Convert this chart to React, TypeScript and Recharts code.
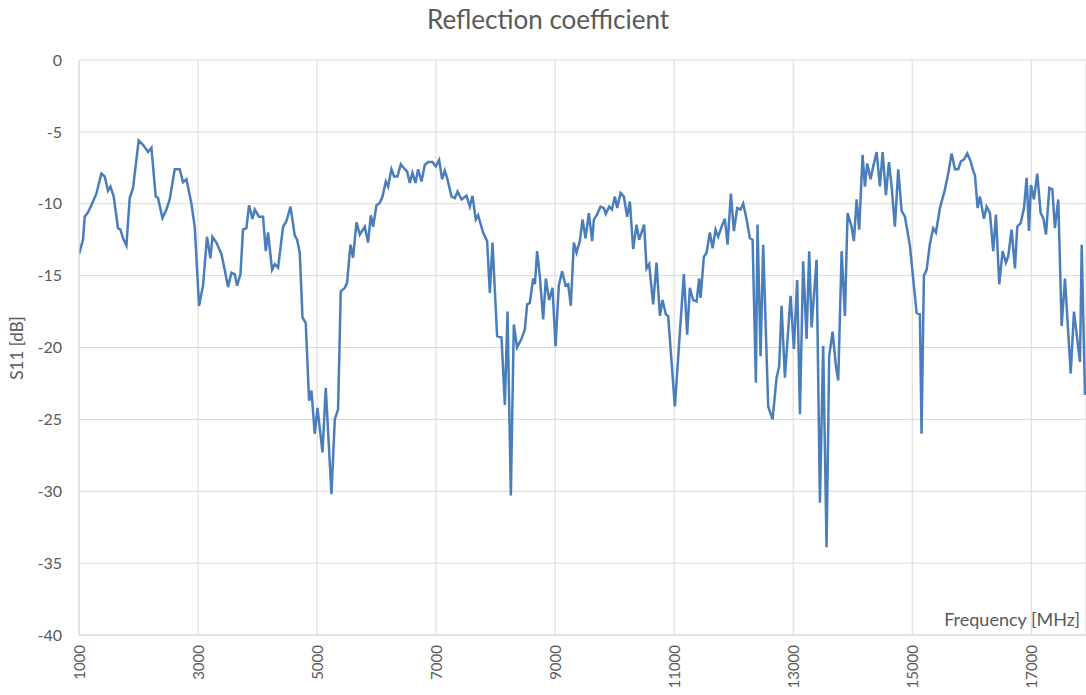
import React from "react";
import { LineChart, Line, XAxis, YAxis, CartesianGrid } from "recharts";

const freq = [
  1000, 1067, 1096, 1151, 1208, 1292, 1376, 1432, 1487, 1528, 1583, 1655, 1696, 1740, 1797, 1852, 1908,
  2003, 2076, 2160, 2217, 2289, 2328, 2402, 2469, 2524, 2608, 2692, 2748, 2805, 2889, 2945,
  3017, 3084, 3151, 3208, 3242, 3309, 3393, 3449, 3504, 3561, 3617, 3656, 3713, 3756, 3813, 3857, 3914, 3953,
  4025, 4092, 4138, 4177, 4244, 4289, 4345, 4429, 4486, 4553, 4625, 4664, 4709, 4755, 4810, 4866, 4906, 4961,
  5007, 5091, 5146, 5242, 5298, 5353, 5398, 5466, 5504, 5561, 5605, 5662, 5718, 5802, 5857, 5903, 5941, 5998,
  6054, 6099, 6155, 6193, 6250, 6294, 6351, 6407, 6474, 6513, 6558, 6603, 6654, 6698, 6755, 6810, 6866, 6940, 6995,
  7051, 7101, 7146, 7185, 7259, 7315, 7360, 7427, 7511, 7567, 7612, 7667, 7706, 7790, 7857, 7903, 7948,
  8025, 8099, 8155, 8200, 8256, 8306, 8361, 8435, 8491, 8530, 8575, 8631, 8660, 8698, 8743, 8799, 8844, 8899, 8956,
  9007, 9062, 9118, 9175, 9219, 9264, 9314, 9360, 9415, 9460, 9511, 9567, 9622, 9651, 9706, 9763, 9819, 9852, 9908, 9954,
  10004, 10043, 10100, 10155, 10210, 10256, 10311, 10368, 10412, 10496, 10536, 10580, 10647, 10704, 10760, 10805, 10861, 10899,
  11012, 11084, 11163, 11219, 11264, 11319, 11377, 11420, 11444, 11499, 11545, 11600, 11646, 11696, 11740, 11797, 11852, 11898, 11953,
  12004, 12059, 12116, 12160, 12218, 12272, 12318, 12373, 12401, 12452, 12496, 12580, 12654, 12721, 12765, 12805, 12861, 12956,
  13012, 13067, 13113, 13168, 13225, 13269, 13309, 13393, 13449, 13504, 13561, 13605, 13662, 13718, 13757, 13814, 13869, 13914, 13981,
  14020, 14066, 14109, 14166, 14205, 14244, 14301, 14345, 14402, 14457, 14503, 14558, 14609, 14654, 14709, 14765, 14822, 14878, 14962,
  15074, 15129, 15157, 15196, 15242, 15297, 15353, 15398, 15466, 15550, 15605, 15662, 15718, 15773, 15819, 15874, 15925, 15982,
  16026, 16054, 16099, 16138, 16205, 16250, 16306, 16361, 16407, 16462, 16519, 16575, 16613, 16670, 16726, 16765, 16822, 16878, 16923, 16962, 16995,
  17046, 17101, 17158, 17203, 17248, 17304, 17354, 17398, 17454, 17511, 17567, 17663, 17718, 17819, 17848, 17903,
];

const s11 = [
  -13.5, -12.5, -10.9, -10.6, -10.1, -9.3, -7.9, -8.1, -9.1, -8.8, -9.5, -11.7, -11.8, -12.4, -12.9, -9.6, -8.9,
  -5.6, -5.9, -6.4, -6.1, -9.5, -9.6, -11.0, -10.4, -9.7, -7.6, -7.6, -8.5, -8.3, -10.0, -11.6,
  -17.1, -15.7, -12.3, -13.8, -12.3, -12.7, -13.5, -14.6, -15.8, -14.8, -14.9, -15.7, -14.9, -11.8, -11.7, -10.1, -11.05, -10.4,
  -10.9, -10.9, -13.3, -12.0, -14.6, -14.2, -14.45, -11.6, -11.2, -10.2, -12.2, -12.5, -13.4, -17.9, -18.3, -23.7, -23.0, -26.0,
  -24.2, -27.3, -22.8, -30.2, -25.0, -24.3, -16.1, -15.85, -15.5, -12.85, -13.75, -11.3, -12.15, -11.6, -12.7, -10.8, -11.6, -10.1,
  -9.95, -9.5, -8.45, -8.8, -7.6, -8.1, -8.1, -7.25, -7.6, -7.75, -8.55, -7.85, -8.55, -7.6, -8.45, -7.3, -7.1, -7.1, -7.4,
  -6.95, -8.3, -7.7, -8.2, -9.5, -9.6, -9.15, -9.7, -9.45, -10.2, -9.45, -11.1, -10.8, -12.0, -12.6, -16.2, -12.7,
  -19.2, -19.3, -24.0, -17.5, -30.3, -18.4, -20.0, -19.4, -18.75, -17.0, -16.9, -15.2, -15.6, -13.3, -15.05, -18.05, -15.2, -16.7, -15.85,
  -19.9, -15.7, -14.7, -15.7, -15.6, -17.1, -12.7, -13.4, -12.6, -11.1, -12.4, -10.65, -12.6, -11.1, -10.75, -10.2, -10.3, -10.7, -10.2, -10.4,
  -9.5, -10.3, -9.25, -9.5, -10.9, -9.85, -13.15, -11.45, -12.5, -11.45, -14.5, -14.2, -17.0, -14.1, -17.8, -16.7, -17.7, -17.8,
  -24.1, -19.7, -14.9, -19.1, -15.85, -16.7, -16.8, -15.2, -16.55, -13.7, -13.4, -12.0, -13.1, -11.8, -12.3, -11.6, -11.05, -12.85, -9.3,
  -11.9, -10.3, -10.4, -10.0, -11.1, -12.4, -12.5, -22.45, -11.45, -20.6, -12.85, -24.1, -25.0, -22.1, -21.3, -17.1, -22.1, -16.4,
  -20.1, -15.3, -24.65, -14.0, -19.4, -13.3, -18.6, -13.9, -30.8, -19.9, -33.9, -20.6, -18.9, -21.3, -22.3, -13.3, -17.8, -10.65, -11.6,
  -12.6, -9.7, -11.8, -6.6, -8.8, -7.2, -8.3, -7.4, -6.4, -8.8, -6.4, -9.4, -7.1, -8.8, -11.6, -7.6, -10.5, -10.9, -12.95,
  -17.6, -17.7, -26.0, -15.0, -14.6, -12.8, -11.7, -12.0, -10.3, -9.0, -7.9, -6.5, -7.6, -7.6, -7.05, -6.9, -6.5, -7.05,
  -7.75, -8.0, -10.3, -9.5, -11.05, -10.2, -10.65, -13.3, -10.75, -15.6, -13.3, -14.1, -13.65, -11.8, -14.5, -11.6, -11.35, -10.3, -8.2, -11.9, -8.7,
  -9.7, -7.9, -10.65, -11.0, -12.15, -8.9, -9.0, -11.7, -9.7, -18.5, -15.2, -21.8, -17.5, -21.0, -12.85, -23.3,
];

const xTicks = [1000, 3000, 5000, 7000, 9000, 11000, 13000, 15000, 17000];
const yTicks = [0, -5, -10, -15, -20, -25, -30, -35, -40];

const data = freq.map((f, i) => ({ f, s11: s11[i] }));

const FONT = "Lato, 'Open Sans', sans-serif";
const TEXT = "#595959";
const GRID = "#d9d9d9";

const XTick = ({ x, y, payload }: any) => (
  <text
    x={x}
    y={y}
    transform={`rotate(-90 ${x} ${y})`}
    textAnchor="end"
    dominantBaseline="central"
    fill={TEXT}
    fontSize={15}
    fontFamily={FONT}
  >
    {payload.value}
  </text>
);

export default function App() {
  return (
    <div style={{ position: "absolute", left: 0, top: 0, width: 1086, height: 695, background: "#fff" }}>
      <div
        style={{
          position: "absolute",
          top: 5,
          left: 0,
          width: 1096,
          textAlign: "center",
          fontFamily: FONT,
          fontSize: 26,
          lineHeight: "28px",
          color: TEXT,
        }}
      >
        Reflection coefficient
      </div>
      <LineChart
        width={1086}
        height={695}
        data={data}
        margin={{ top: 60, right: 0, left: 0, bottom: 0 }}
      >
        <CartesianGrid stroke={GRID} strokeWidth={1} />
        <XAxis
          dataKey="f"
          type="number"
          domain={[1000, 17920]}
          ticks={xTicks}
          interval={0}
          allowDataOverflow
          height={60}
          tickLine={false}
          tickMargin={4}
          axisLine={{ stroke: GRID }}
          tick={<XTick />}
          label={(props: any) => {
            const vb = props.viewBox;
            return (
              <text
                x={vb.x + vb.width - 6}
                y={vb.y - 9}
                textAnchor="end"
                fill={TEXT}
                fontSize={18}
                fontFamily={FONT}
              >
                Frequency [MHz]
              </text>
            );
          }}
        />
        <YAxis
          type="number"
          domain={[-40, 0]}
          ticks={yTicks}
          interval={0}
          width={79}
          tickLine={false}
          tickMargin={11}
          axisLine={{ stroke: GRID }}
          tick={{ fill: TEXT, fontSize: 16, fontFamily: FONT }}
          label={() => (
            <text
              x={16}
              y={348}
              transform="rotate(-90 16 348)"
              textAnchor="middle"
              dominantBaseline="central"
              fill={TEXT}
              fontSize={17}
              fontFamily={FONT}
            >
              S11 [dB]
            </text>
          )}
        />
        <Line
          type="linear"
          dataKey="s11"
          stroke="#4a7ebb"
          strokeWidth={2.5}
          dot={false}
          isAnimationActive={false}
        />
      </LineChart>
    </div>
  );
}
